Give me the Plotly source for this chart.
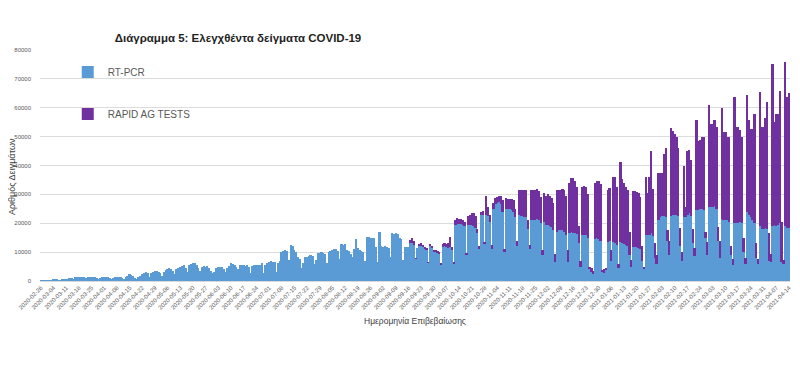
import pandas as pd
import plotly.graph_objects as go

start_date = "2020-02-26"

# Daily RT-PCR samples (one row per week, Wed..Tue)
pcr = [
    30, 40, 60, 90, 50, 100, 150,
    350, 500, 400, 300, 250, 350, 450,
    550, 700, 900, 1100, 800, 1250, 1400,
    1500, 1400, 1300, 1250, 900, 1300, 1350,
    1300, 1250, 1300, 1100, 800, 1200, 1300,
    1350, 1250, 1400, 1100, 850, 1150, 1400,
    1300, 1450, 1300, 1000, 700, 1350, 1650,
    2400, 2200, 1700, 1200, 800, 1500, 1800,
    2300, 2700, 3000, 2800, 1500, 2600, 3200,
    3300, 3500, 3200, 2600, 1800, 3000, 3700,
    4000, 4400, 4200, 3500, 2500, 4100, 4600,
    5000, 5300, 5600, 4600, 3000, 5500, 6000,
    6400, 6200, 5500, 4600, 3500, 5000, 5300,
    4800, 5200, 4600, 3500, 2800, 3000, 4500,
    4700, 5000, 4900, 4300, 3000, 4600, 5100,
    6300, 5900, 5600, 5000, 4000, 5500, 5600,
    5500, 5300, 5400, 5000, 2600, 5200, 5500,
    5500, 5600, 5400, 6100, 2700, 5500, 6200,
    6600, 6800, 6700, 6500, 3200, 6400, 6900,
    10100, 10300, 10700, 10500, 7300, 12400, 12000,
    10700, 10000, 8400, 7600, 4400, 6100, 8400,
    8400, 8600, 9000, 8800, 6000, 7300, 9800,
    9800, 9900, 9700, 9500, 6100, 10100, 10400,
    10700, 11000, 11000, 10500, 7500, 12800, 12500,
    12800, 10700, 10500, 9500, 8400, 11000, 14400,
    11500, 10700, 10400, 10200, 7000, 15100, 15100,
    15000, 15000, 14800, 11900, 6500, 17000, 12000,
    11800, 12000, 11900, 11500, 8400, 16500, 16300,
    16500, 16300, 14800, 14500, 7300, 11900, 11900,
    11900, 13300, 13000, 12500, 7800, 11300, 12200,
    12200, 12000, 11300, 11000, 6300, 12300, 11500,
    10000, 10200, 9800, 9500, 5600, 11800, 12000,
    11800, 11500, 11900, 10800, 6200, 19500, 19800,
    19800, 19600, 19500, 19000, 9000, 19400, 19500,
    19400, 19000, 18500, 16500, 11000, 22800, 23000,
    13000, 23000, 22500, 20500, 11000, 25000, 26500,
    27000, 27500, 26500, 24000, 10000, 25000, 25000,
    25000, 24500, 24000, 22000, 12000, 22800, 22500,
    22500, 22300, 22000, 18000, 11000, 21000, 21200,
    21000, 21500, 21000, 20000, 9000, 20500, 19500,
    19500, 19000, 18800, 17500, 6500, 17000, 17500,
    17500, 17500, 17000, 16000, 6500, 16500, 17000,
    16500, 16500, 16200, 13000, 5000, 16000, 16000,
    16000, 15000, 4000, 3000, 2500, 14500, 14800,
    14500, 14000, 3000, 2800, 4000, 13500, 13800,
    7000, 13500, 13000, 12500, 4500, 13500, 13200,
    12800, 12500, 12000, 9000, 5000, 11900, 11800,
    11800, 11500, 11000, 7000, 4000, 16000, 16000,
    16000, 16500, 15500, 8000, 6000, 21000, 22000,
    22500, 22500, 22000, 14000, 9000, 22500, 23000,
    23000, 23000, 22500, 12000, 7000, 22000, 22000,
    23000, 23500, 22500, 13000, 8500, 24500, 24500,
    25000, 25000, 24500, 15000, 9000, 25500, 25500,
    25500, 26000, 25000, 14000, 8000, 21500, 21000,
    21000, 21000, 20500, 9000, 5500, 20000, 20000,
    20000, 20500, 20000, 10000, 6000, 24000, 23000,
    22000, 21000, 20000, 8000, 6000, 19000, 18000,
    18000, 18500, 18000, 7000, 6500, 19000, 19500,
    19000, 19500, 20000, 6500, 6000, 19000, 18500,
    18500,
]

# Daily rapid antigen tests (one row per week, Wed..Tue)
rapid = [
    0, 0, 0, 0, 0, 0, 0,
    0, 0, 0, 0, 0, 0, 0,
    0, 0, 0, 0, 0, 0, 0,
    0, 0, 0, 0, 0, 0, 0,
    0, 0, 0, 0, 0, 0, 0,
    0, 0, 0, 0, 0, 0, 0,
    0, 0, 0, 0, 0, 0, 0,
    0, 0, 0, 0, 0, 0, 0,
    0, 0, 0, 0, 0, 0, 0,
    0, 0, 0, 0, 0, 0, 0,
    0, 0, 0, 0, 0, 0, 0,
    0, 0, 0, 0, 0, 0, 0,
    0, 0, 0, 0, 0, 0, 0,
    0, 0, 0, 0, 0, 0, 0,
    0, 0, 0, 0, 0, 0, 0,
    0, 0, 0, 0, 0, 0, 0,
    0, 0, 0, 0, 0, 0, 0,
    0, 0, 0, 0, 0, 0, 0,
    0, 0, 0, 0, 0, 0, 0,
    0, 0, 0, 0, 0, 0, 0,
    0, 0, 0, 0, 0, 0, 0,
    0, 0, 0, 0, 0, 0, 0,
    0, 0, 0, 0, 0, 0, 0,
    0, 0, 0, 0, 0, 0, 0,
    0, 0, 0, 0, 0, 0, 0,
    0, 0, 0, 0, 0, 0, 0,
    0, 0, 0, 0, 0, 0, 0,
    0, 0, 0, 0, 0, 0, 0,
    0, 0, 0, 0, 0, 0, 0,
    0, 1000, 2000, 1500, 100, 0, 300,
    800, 300, 600, 400, 200, 500, 300,
    700, 600, 400, 300, 300, 900, 1000,
    1000, 1500, 3400, 1000, 500, 1800, 1900,
    1700, 2000, 1800, 1500, 800, 3000, 3500,
    4000, 4500, 4000, 1500, 1000, 1000, 1200,
    500, 6400, 3300, 2500, 1500, 2000, 2200,
    2000, 1900, 3000, 4000, 1000, 3600, 3400,
    3500, 4000, 4200, 3000, 2000, 8700, 9000,
    9000, 9200, 9500, 3000, 1500, 10500, 10300,
    10500, 10500, 10000, 9000, 1700, 10000, 10000,
    10500, 10500, 9800, 9500, 3000, 14500, 14000,
    14000, 14500, 14500, 13500, 4200, 17500, 18500,
    19000, 18000, 16500, 6000, 2000, 16500, 17000,
    16500, 15000, 1000, 1500, 1000, 19500, 20000,
    20000, 19500, 800, 1200, 500, 18000, 18500,
    3700, 22500, 23000, 20000, 1500, 27800, 22000,
    21000, 20000, 19500, 8000, 2300, 19300, 19500,
    19000, 19000, 18000, 5000, 1000, 20000, 14500,
    20000, 28500, 16500, 5000, 3000, 16500, 15500,
    15000, 21500, 24000, 3500, 5000, 30500, 29000,
    28000, 27000, 23500, 6500, 3000, 18000, 3700,
    22000, 21800, 19400, 5000, 3000, 31200, 24000,
    24000, 25000, 25500, 2000, 4500, 35500, 29000,
    29000, 29700, 28200, 4800, 6000, 38300, 30500,
    30700, 29000, 29500, 3000, 2000, 43600, 33300,
    33300, 31800, 30000, 5000, 2000, 40400, 32700,
    30800, 31800, 38000, 5000, 1500, 46500, 35300,
    35300, 37800, 44000, 9500, 3000, 56000, 35600,
    39000, 38500, 45800, 14000, 1300, 56900, 45300,
    46500,
]

series_names = ["RT-PCR", "RAPID AG TESTS"]
series_colors = ["#5B9BD5", "#7030A0"]
title_text = "Διάγραμμα 5: Ελεγχθέντα δείγματα COVID-19"
x_title = "Ημερομηνία Επιβεβαίωσης"
y_title = "Αριθμός Δειγμάτων"

dates = pd.date_range(start_date, periods=len(pcr)).strftime("%Y-%m-%d").tolist()
tick_dates = dates[::7]

FONT = "Liberation Sans"
GRAY = "#595959"

# page body has an 8px default margin: the figure is sized so it fits the window
W, H = 792, 376
L, R, T, B = 32, 10, 42, 103
plot_w = W - L - R

fig = go.Figure()
fig.add_trace(go.Bar(x=dates, y=pcr, name=series_names[0], showlegend=True,
                     marker=dict(color=series_colors[0], line=dict(width=0)),
                     legend="legend"))
fig.add_trace(go.Bar(x=dates, y=rapid, name=series_names[1], showlegend=True,
                     marker=dict(color=series_colors[1], line=dict(width=0)),
                     legend="legend2"))

fig.update_layout(
    width=W, height=H,
    barmode="stack", bargap=0,
    showlegend=True,
    paper_bgcolor="white", plot_bgcolor="white",
    margin=dict(l=L, r=R, t=T, b=B, autoexpand=False),
    font=dict(family=FONT, color=GRAY),
    title=dict(text="<b>" + title_text + "</b>", x=230 / W, xref="container",
               xanchor="center", y=1 - 30 / H, yref="container", yanchor="middle",
               font=dict(family=FONT, size=11.5, color="#1f1f1f")),
    legend=dict(x=0.037, y=0.905, xanchor="left", yanchor="middle",
                font=dict(size=10, color=GRAY), bgcolor="rgba(0,0,0,0)",
                itemwidth=30),
    legend2=dict(x=0.037, y=0.723, xanchor="left", yanchor="middle",
                 font=dict(size=10, color=GRAY), bgcolor="rgba(0,0,0,0)",
                 itemwidth=30),
    xaxis=dict(type="category", range=[-0.5, len(dates) - 0.5], automargin=False,
               tickmode="array", tickvals=tick_dates, ticktext=tick_dates,
               tickangle=-45, tickfont=dict(size=6, color=GRAY),
               showgrid=False, showline=True, linecolor="#d9d9d9", ticks="",
               title=dict(text=x_title, font=dict(size=8.5, color="#404040"), standoff=8)),
    yaxis=dict(range=[0, 80000], dtick=10000, tickformat="d", automargin=False,
               tickfont=dict(size=6, color=GRAY), gridcolor="#dcdcdc",
               zeroline=False, ticks="", ticklabelstandoff=8),
    annotations=[dict(text=y_title, textangle=-90, xref="paper", yref="paper",
                      x=(4 - L) / plot_w, y=0.45, xanchor="center", yanchor="middle",
                      showarrow=False, font=dict(size=9, color="#404040"))],
)

fig.write_html("out.html")
